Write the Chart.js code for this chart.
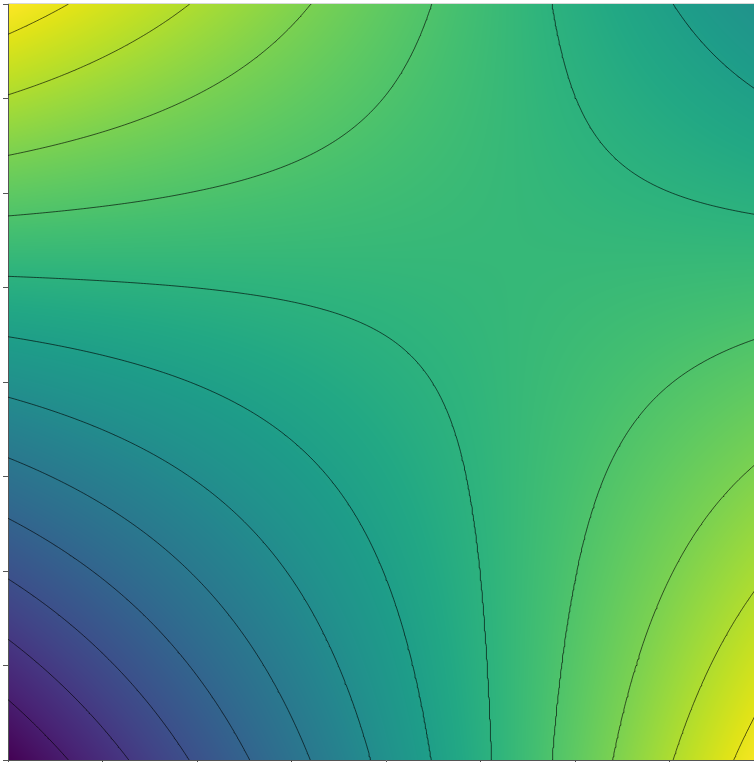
<!DOCTYPE html>
<html>
<head>
<meta charset="utf-8">
<script src="https://cdn.jsdelivr.net/npm/chart.js@4.4.0/dist/chart.umd.min.js"></script>
<style>
html,body{margin:0;padding:0;background:#fff;overflow:hidden;width:754px;height:762px}
canvas{position:absolute;left:0;top:0}
</style>
</head>
<body>
<canvas id="c" width="772" height="772" style="width:772px;height:772px"></canvas>
<script>
// ---- data ----
const xNodes = [-2, -1, 0, 1, 2];
const yNodes = [-2, -1, 0, 1, 2];
// field values at (xNodes[i], yNodes[j]); one row per yNodes entry (bottom to top)
const zRowYm2 = [0.00, 3.13, 6.25, 9.38, 12.50];
const zRowYm1 = [3.13, 5.08, 7.03, 8.98, 10.94];
const zRowY0  = [6.25, 7.03, 7.81, 8.59, 9.38];
const zRowY1  = [9.38, 8.98, 8.59, 8.20, 7.81];
const zRowY2  = [12.50, 10.94, 9.38, 7.81, 6.25];
const zRows = [zRowYm2, zRowYm1, zRowY0, zRowY1, zRowY2];
const contourLevels = [1, 2, 3, 4, 5, 6, 7, 8, 9, 10, 11, 12];
const colorMin = 0, colorMax = 12.5;
const tickValues = [-2, -1.5, -1, -0.5, 0, 0.5, 1, 1.5, 2];

// ---- viridis colour map ----
const viridisStops = ['#440154','#471365','#482475','#463480','#414487','#3b528b','#355f8d','#2f6c8e','#2a788e','#25848e','#21918c','#1e9c89','#22a884','#2fb47c','#44bf70','#5ec962','#7ad151','#9bd93c','#bddf26','#dfe318','#fde725']
  .map(h => [parseInt(h.slice(1,3),16), parseInt(h.slice(3,5),16), parseInt(h.slice(5,7),16)]);
function viridis(t) {
  t = Math.max(0, Math.min(1, t));
  const p = t * (viridisStops.length - 1);
  const k = Math.min(Math.floor(p), viridisStops.length - 2);
  const f = p - k, a = viridisStops[k], b = viridisStops[k + 1];
  return [a[0] + (b[0]-a[0])*f, a[1] + (b[1]-a[1])*f, a[2] + (b[2]-a[2])*f];
}

// value of the gridded field at a data position (smooth shading between grid nodes)
function cellIndex(nodes, v) {
  let i = 0;
  while (i < nodes.length - 2 && v > nodes[i + 1]) i++;
  return i;
}
function fieldAt(xv, yv) {
  const i = cellIndex(xNodes, xv), j = cellIndex(yNodes, yv);
  const tx = (xv - xNodes[i]) / (xNodes[i+1] - xNodes[i]);
  const ty = (yv - yNodes[j]) / (yNodes[j+1] - yNodes[j]);
  const z00 = zRows[j][i], z10 = zRows[j][i+1], z01 = zRows[j+1][i], z11 = zRows[j+1][i+1];
  return z00*(1-tx)*(1-ty) + z10*tx*(1-ty) + z01*(1-tx)*ty + z11*tx*ty;
}

// ---- contour lines from the grid (marching squares + chaining) ----
function contourPaths(level) {
  const N = 240, x0 = xNodes[0], x1 = xNodes[xNodes.length-1], y0 = yNodes[0], y1 = yNodes[yNodes.length-1];
  const xs = [], ys = [];
  for (let i = 0; i <= N; i++) { xs.push(x0 + (x1-x0)*i/N); ys.push(y0 + (y1-y0)*i/N); }
  const S = ys.map(yv => xs.map(xv => fieldAt(xv, yv)));
  const nodes = new Map();
  const getNode = (key, pt) => { if (!nodes.has(key)) nodes.set(key, {pt, nb: []}); return nodes.get(key); };
  const link = (a, b) => { a.nb.push(b); b.nb.push(a); };
  for (let j = 0; j < N; j++) {
    for (let i = 0; i < N; i++) {
      const v00 = S[j][i], v10 = S[j][i+1], v01 = S[j+1][i], v11 = S[j+1][i+1];
      const edges = [];
      const test = (va, vb, key, pa, pb) => {
        if ((va >= level) !== (vb >= level)) {
          const t = (level - va) / (vb - va);
          edges.push(getNode(key, {x: pa[0] + (pb[0]-pa[0])*t, y: pa[1] + (pb[1]-pa[1])*t}));
        }
      };
      test(v00, v10, 'h'+i+'_'+j, [xs[i],ys[j]], [xs[i+1],ys[j]]);
      test(v10, v11, 'v'+(i+1)+'_'+j, [xs[i+1],ys[j]], [xs[i+1],ys[j+1]]);
      test(v01, v11, 'h'+i+'_'+(j+1), [xs[i],ys[j+1]], [xs[i+1],ys[j+1]]);
      test(v00, v01, 'v'+i+'_'+j, [xs[i],ys[j]], [xs[i],ys[j+1]]);
      if (edges.length === 2) link(edges[0], edges[1]);
      else if (edges.length === 4) { link(edges[0], edges[1]); link(edges[2], edges[3]); }
    }
  }
  const seen = new Set(), paths = [];
  const walk = (start) => {
    const path = [start.pt]; seen.add(start);
    let prev = null, cur = start;
    while (true) {
      const nxt = cur.nb.find(n => n !== prev && !seen.has(n));
      if (!nxt) break;
      seen.add(nxt); path.push(nxt.pt); prev = cur; cur = nxt;
    }
    return path;
  };
  for (const n of nodes.values()) if (!seen.has(n) && n.nb.length === 1) paths.push(walk(n));
  for (const n of nodes.values()) if (!seen.has(n)) paths.push(walk(n));
  return paths;
}

const datasets = [];
contourLevels.forEach(L => {
  contourPaths(L).forEach(p => datasets.push({
    data: p, showLine: true, pointRadius: 0, pointHoverRadius: 0,
    borderColor: 'rgba(0,0,0,0.62)', borderWidth: 1, fill: false, tension: 0
  }));
});

// ---- plugins: shaded field under the lines, faint top frame ----
const fieldPlugin = {
  id: 'field',
  beforeDraw(chart) {
    const {ctx, chartArea: a, scales: {x, y}} = chart;
    const L = Math.round(a.left), T = Math.round(a.top), W = Math.round(a.right) - L, H = Math.round(a.bottom) - T;
    const img = ctx.createImageData(W, H);
    const xv = [], yv = [];
    for (let i = 0; i < W; i++) xv.push(x.getValueForPixel(L + i + 0.5));
    for (let j = 0; j < H; j++) yv.push(y.getValueForPixel(T + j + 0.5));
    for (let j = 0; j < H; j++) {
      for (let i = 0; i < W; i++) {
        const c = viridis((fieldAt(xv[i], yv[j]) - colorMin) / (colorMax - colorMin));
        const o = (j * W + i) * 4;
        img.data[o] = c[0]; img.data[o+1] = c[1]; img.data[o+2] = c[2]; img.data[o+3] = 255;
      }
    }
    ctx.putImageData(img, L, T);
  },
  afterDraw(chart) {
    const {ctx, chartArea: a} = chart;
    ctx.save();
    ctx.strokeStyle = '#d8d8d8'; ctx.lineWidth = 1;
    ctx.beginPath(); ctx.moveTo(a.left, a.top - 0.5); ctx.lineTo(a.right, a.top - 0.5); ctx.stroke();
    ctx.restore();
  }
};

const axisCommon = {
  type: 'linear', min: -2, max: 2,
  afterBuildTicks: (s) => { s.ticks = tickValues.map(v => ({value: v})); },
  ticks: {display: false},
  grid: {display: true, drawOnChartArea: false, drawTicks: true, tickLength: 5, color: '#555', lineWidth: 1},
  border: {display: true, color: '#555', width: 1}
};

new Chart(document.getElementById('c'), {
  type: 'scatter',
  data: {datasets},
  options: {
    responsive: false, devicePixelRatio: 1, animation: false,
    layout: {padding: {left: 3, top: 4, right: 8, bottom: 7}},
    plugins: {legend: {display: false}, tooltip: {enabled: false}},
    scales: {x: {...axisCommon, position: 'bottom'}, y: {...axisCommon, position: 'left'}}
  },
  plugins: [fieldPlugin]
});
</script>
</body>
</html>
